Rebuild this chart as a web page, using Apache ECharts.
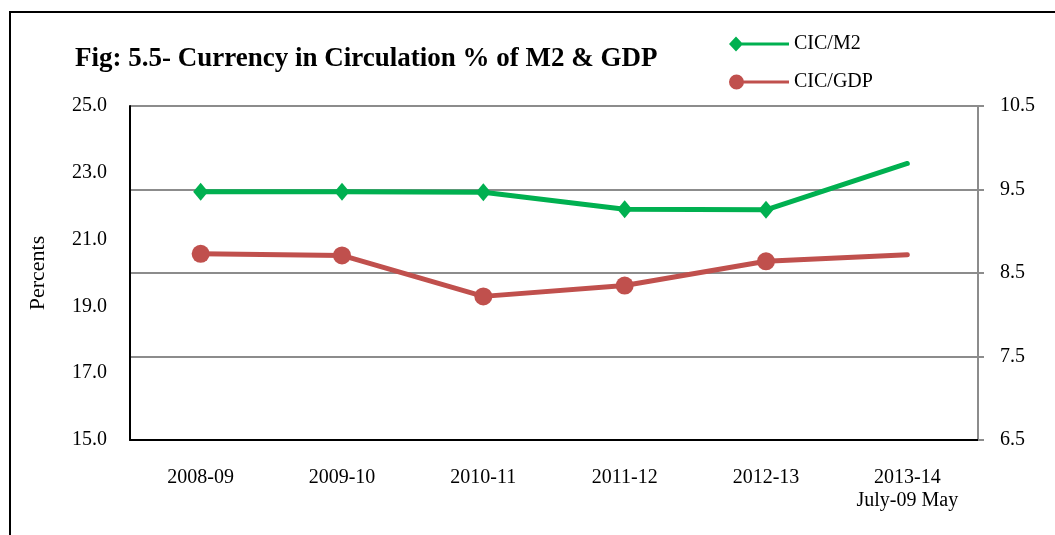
<!DOCTYPE html>
<html>
<head>
<meta charset="utf-8">
<title>Currency in Circulation % of M2 & GDP</title>
<script src="https://cdn.jsdelivr.net/npm/echarts@6/dist/echarts.min.js"></script>
<style>
  html, body { margin: 0; padding: 0; background: #fff; }
  #chart { width: 1055px; height: 535px; }
</style>
</head>
<body>
<div id="chart"></div>
<script>
// categories
const years = ["2008-09", "2009-10", "2010-11", "2011-12", "2012-13", "2013-14\nJuly-09 May"];
// CIC/M2 (left axis, %)
const cicM2 = [22.43, 22.43, 22.42, 21.91, 21.89, 23.28];
// CIC/GDP (right axis, %)
const cicGdp = [8.73, 8.71, 8.22, 8.35, 8.64, 8.72];
// axis ticks
const leftTicks = [15, 17, 19, 21, 23, 25];
const rightTicks = [6.5, 7.5, 8.5, 9.5, 10.5];

const COLORS = {
  green: "#00b050",
  red: "#c0504d",
  grid: "#8c8c8c",
  text: "#000",
};
const FONT = "'Liberation Serif', 'DejaVu Serif', serif";

// legend icons: marker at left end of a short line
const ICON_DIAMOND = "path://M0,7.5L7,0L14,7.5L7,15ZM7,6L60,6L60,9L7,9Z";
const ICON_CIRCLE = "path://M0,7.5A7.5,7.5 0 1,1 15,7.5A7.5,7.5 0 1,1 0,7.5ZM7.5,6L60,6L60,9L7.5,9Z";

// last point has no marker
const toPoints = (arr) =>
  arr.map((v, i) => (i === arr.length - 1 ? { value: v, symbol: "none" } : v));

const chart = echarts.init(document.getElementById("chart"));

const option = {
  backgroundColor: "#fff",
  animation: false,
  textStyle: { fontFamily: FONT, color: COLORS.text },
  title: {
    text: "Fig: 5.5- Currency in Circulation % of M2 & GDP",
    left: 70,
    top: 41,
    textStyle: { fontFamily: FONT, fontSize: 27, fontWeight: "bold", color: COLORS.text },
  },
  legend: {
    orient: "vertical",
    left: 729,
    top: 34,
    padding: 0,
    itemWidth: 60,
    itemHeight: 15,
    itemGap: 18,
    textStyle: { fontFamily: FONT, fontSize: 20, color: COLORS.text },
    itemStyle: { borderWidth: 0 },
    data: [
      { name: "CIC/M2", icon: ICON_DIAMOND },
      { name: "CIC/GDP", icon: ICON_CIRCLE },
    ],
  },
  graphic: [
    {
      type: "rect",
      silent: true,
      shape: { x: 10, y: 12, width: 1200, height: 700 },
      style: { fill: "none", stroke: "#000", lineWidth: 2 },
    },
  ],
  grid: { left: 130, right: 77, top: 106, bottom: 95 },
  xAxis: {
    type: "category",
    data: years,
    boundaryGap: true,
    axisLine: { lineStyle: { color: "#000", width: 2 } },
    axisTick: { show: false },
    axisLabel: {
      fontFamily: FONT,
      fontSize: 20,
      lineHeight: 23,
      margin: 26,
      color: COLORS.text,
      interval: 0,
    },
  },
  yAxis: [
    {
      type: "value",
      min: 15,
      max: 25,
      interval: 2,
      name: "Percents",
      nameLocation: "middle",
      nameRotate: 90,
      nameGap: 81,
      nameTextStyle: { fontFamily: FONT, fontSize: 22, color: COLORS.text },
      axisLine: { show: true, lineStyle: { color: "#000", width: 2 } },
      axisTick: { show: false },
      splitLine: { show: false },
      axisLabel: {
        fontFamily: FONT,
        fontSize: 20,
        margin: 23,
        color: COLORS.text,
        customValues: leftTicks,
        formatter: (v) => v.toFixed(1),
      },
    },
    {
      type: "value",
      min: 6.5,
      max: 10.5,
      position: "right",
      axisLine: { show: true, lineStyle: { color: COLORS.grid, width: 2 } },
      axisTick: {
        show: true,
        length: 6,
        customValues: rightTicks,
        lineStyle: { color: COLORS.grid, width: 2 },
      },
      splitLine: { show: true, lineStyle: { color: COLORS.grid, width: 2 } },
      axisLabel: {
        fontFamily: FONT,
        fontSize: 20,
        margin: 22,
        color: COLORS.text,
        customValues: rightTicks,
        formatter: (v) => v.toFixed(1),
      },
    },
  ],
  series: [
    {
      name: "CIC/M2",
      type: "line",
      yAxisIndex: 0,
      data: toPoints(cicM2),
      symbol: "diamond",
      symbolSize: [15, 18],
      lineStyle: { color: COLORS.green, width: 5, cap: "round" },
      itemStyle: { color: COLORS.green, borderWidth: 0 },
      z: 3,
    },
    {
      name: "CIC/GDP",
      type: "line",
      yAxisIndex: 1,
      data: toPoints(cicGdp),
      symbol: "circle",
      symbolSize: 18,
      lineStyle: { color: COLORS.red, width: 5, cap: "round" },
      itemStyle: { color: COLORS.red, borderWidth: 0 },
      z: 2,
    },
  ],
};

chart.setOption(option);
</script>
</body>
</html>
